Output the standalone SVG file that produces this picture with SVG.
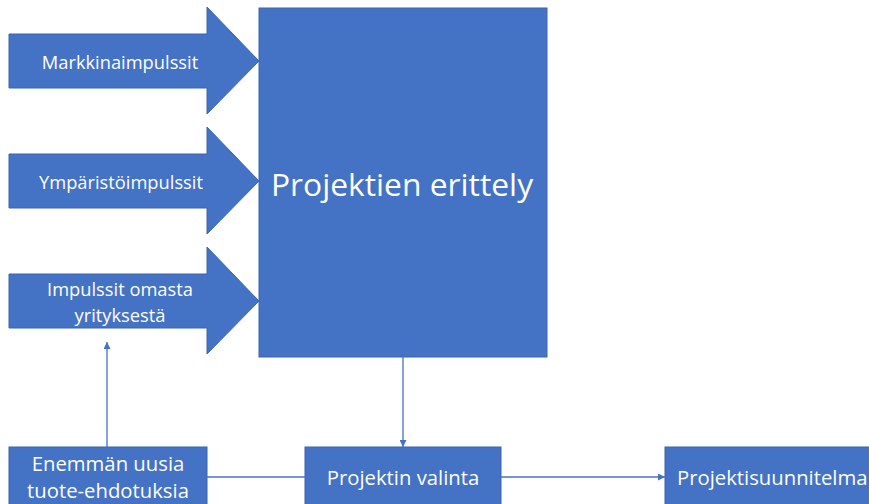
<svg xmlns="http://www.w3.org/2000/svg" width="869" height="504" viewBox="0 0 869 504">
<style>
.shape{fill:#4472C4;stroke:#3B64AD;stroke-width:1}
.lbl{fill:#FFFFFF;font-family:"Open Sans","Liberation Sans",sans-serif;font-size:18.3px;text-anchor:middle;dominant-baseline:central}
.low{font-size:20.3px}
.big{font-size:31.8px}
.conn{stroke:#4472C4;stroke-width:1.3;fill:none}
</style>
<defs>
<marker id="ah" viewBox="0 0 10 10" refX="10" refY="5" markerWidth="7" markerHeight="7" markerUnits="userSpaceOnUse" orient="auto">
<path d="M0,0 L10,5 L0,10 z" fill="#4472C4"/>
</marker>
</defs>
<g id="arrow-markkina">
<polygon class="shape" points="9,34 207,34 207,7 259,61 207,114 207,88 9,88"/>
<text class="lbl" x="120" y="61">Markkinaimpulssit</text>
</g>
<g id="arrow-ymparisto">
<polygon class="shape" points="9,154 207,154 207,127 259,181 207,234 207,208 9,208"/>
<text class="lbl" x="121" y="181">Ympäristöimpulssit</text>
</g>
<g id="arrow-impulssit">
<polygon class="shape" points="9,274 207,274 207,247 259,301 207,354 207,328 9,328"/>
<text class="lbl" x="120" y="288">Impulssit omasta</text>
<text class="lbl" x="120" y="314">yrityksestä</text>
</g>
<g id="projektien-erittely">
<rect class="shape" x="259" y="8" width="288" height="349"/>
<text class="lbl big" x="402" y="183">Projektien erittely</text>
</g>
<g id="enemman">
<rect class="shape" x="9" y="447" width="198" height="60"/>
<text class="lbl low" x="108" y="463">Enemmän uusia</text>
<text class="lbl low" x="108" y="490">tuote-ehdotuksia</text>
</g>
<g id="projektin-valinta">
<rect class="shape" x="305" y="447" width="196" height="60"/>
<text class="lbl low" x="403" y="477">Projektin valinta</text>
</g>
<g id="projektisuunnitelma">
<rect class="shape" x="665" y="447" width="210" height="60"/>
<text class="lbl low" x="677" y="477" style="text-anchor:start">Projektisuunnitelma</text>
</g>
<g id="connectors">
<line class="conn" x1="107" y1="447" x2="107" y2="342" marker-end="url(#ah)"/>
<line class="conn" x1="403" y1="357" x2="403" y2="447" marker-end="url(#ah)"/>
<line class="conn" x1="207" y1="477" x2="305" y2="477"/>
<line class="conn" x1="501" y1="477" x2="665" y2="477" marker-end="url(#ah)"/>
</g>
</svg>
